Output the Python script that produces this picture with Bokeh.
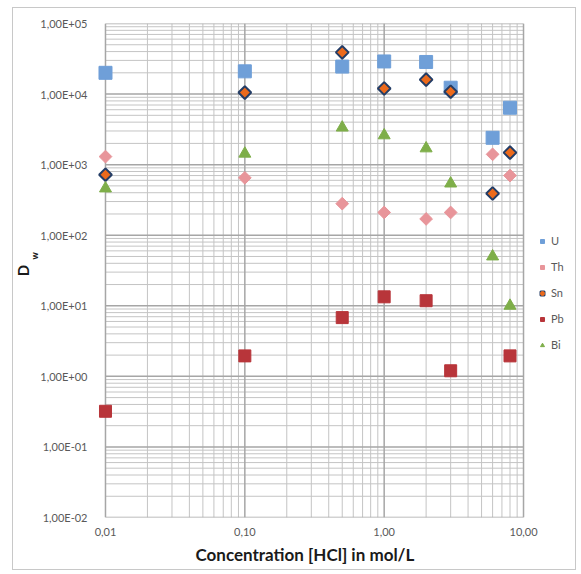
import math
from bokeh.plotting import figure
from bokeh.models import FixedTicker, Legend, LegendItem, Title
from bokeh.embed import file_html
from bokeh.resources import INLINE

# ---- data ----
hcl = [0.01, 0.1, 0.5, 1, 2, 3, 6, 8]
U = [2.0e4, 2.1e4, 2.45e4, 2.9e4, 2.85e4, 1.23e4, 2.4e3, 6.4e3]
Th = [1.3e3, 6.5e2, 2.8e2, 2.1e2, 1.7e2, 2.1e2, 1.4e3, 7.0e2]
Sn = [7.2e2, 1.05e4, 3.9e4, 1.2e4, 1.6e4, 1.08e4, 3.9e2, 1.48e3]
pb_hcl = [0.01, 0.1, 0.5, 1, 2, 3, 8]
Pb = [0.32, 1.95, 6.8, 13.4, 11.8, 1.2, 1.95]
Bi = [4.6e2, 1.43e3, 3.35e3, 2.6e3, 1.7e3, 5.4e2, 50, 10]

x_ticks = [0.01, 0.1, 1, 10]
x_tick_labels = ["0,01", "0,10", "1,00", "10,00"]
y_ticks = [1e-2, 1e-1, 1e0, 1e1, 1e2, 1e3, 1e4, 1e5]
y_tick_labels = ["1,00E-02", "1,00E-01", "1,00E+00", "1,00E+01",
                 "1,00E+02", "1,00E+03", "1,00E+04", "1,00E+05"]
x_title = "Concentration [HCl] in mol/L"
y_title = "D"
y_title_sub = "w"

FONT = "Lato"

def minors(ticks):
    out = []
    for t in ticks[:-1]:
        for k in range(2, 10):
            out.append(t * k)
    return out

x_lo, x_hi = x_ticks[0], x_ticks[-1]
y_lo, y_hi = y_ticks[0], y_ticks[-1]

# the visible chart spans 0.01..10; the frame is a little wider so that
# edge markers are not cut and the legend can sit to the right
p = figure(width=564, height=563, x_axis_type="log", y_axis_type="log",
           x_range=(0.00862, 24.4), y_range=(y_lo, y_hi),
           output_backend="svg", toolbar_location=None,
           min_border_left=83, min_border_right=0,
           min_border_top=15, min_border_bottom=54)
p.margin = (7, 0, 0, 12)
p.styles = {"border": "1px solid #c8c8c8"}
p.background_fill_color = "white"
p.border_fill_color = "white"
p.outline_line_color = None

p.xaxis.ticker = FixedTicker(ticks=x_ticks, minor_ticks=minors(x_ticks))
p.yaxis.ticker = FixedTicker(ticks=y_ticks, minor_ticks=minors(y_ticks))
p.xaxis.major_label_overrides = dict(zip(x_ticks, x_tick_labels))
p.yaxis.major_label_overrides = dict(zip(y_ticks, y_tick_labels))
p.xaxis.bounds = (x_lo, x_hi)

for ax in (p.xaxis, p.yaxis):
    ax.major_tick_line_color = None
    ax.minor_tick_line_color = None
    ax.axis_line_color = None
    ax.major_label_text_font = FONT
    ax.major_label_text_font_size = "11px"
    ax.major_label_text_color = "#595959"
p.xaxis.major_label_standoff = 4
p.yaxis.major_label_standoff = 3

p.xgrid.grid_line_color = None
p.ygrid.grid_line_color = None

# grid lines, spanning exactly the axis extents
xm = minors(x_ticks)
ym = minors(y_ticks)
p.segment(x0=xm, x1=xm, y0=[y_lo] * len(xm), y1=[y_hi] * len(xm),
          line_color="#c4c4c4", line_width=1)
p.segment(x0=[x_lo] * len(ym), x1=[x_hi] * len(ym), y0=ym, y1=ym,
          line_color="#c4c4c4", line_width=1)
p.segment(x0=x_ticks, x1=x_ticks, y0=[y_lo] * len(x_ticks), y1=[y_hi] * len(x_ticks),
          line_color="#a6a6a6", line_width=1.5)
p.segment(x0=[x_lo] * len(y_ticks), x1=[x_hi] * len(y_ticks), y0=y_ticks, y1=y_ticks,
          line_color="#a6a6a6", line_width=1.5)

# x axis title (placed under the visible chart area)
t_x = Title(text=x_title, align="left", offset=99, standoff=7,
            text_font=FONT, text_font_size="17px", text_font_style="bold",
            text_color="#1a1a1a")
p.add_layout(t_x, "below")

# y axis title D_w (subscript as a second, smaller title)
t_w = Title(text=y_title_sub, align="left", offset=258, standoff=-5,
            text_font=FONT, text_font_size="9px", text_font_style="bold",
            text_color="#1a1a1a")
t_d = Title(text=y_title, align="center", offset=3, standoff=-4,
            text_font=FONT, text_font_size="15px", text_font_style="bold",
            text_color="#1a1a1a")
p.add_layout(t_w, "left")
p.add_layout(t_d, "left")

rU = p.scatter(hcl, U, marker="square", size=13, fill_color="#6f9fd8", line_color="#6f9fd8")
rTh = p.scatter(hcl, Th, marker="square", angle=math.pi / 4, size=9,
                fill_color="#e8959a", line_color="#e8959a")
rSn1 = p.scatter(hcl, Sn, marker="square", angle=math.pi / 4, size=9,
                 fill_color="#ec6a1c", line_color="#243d66", line_width=2)
rSn2 = p.scatter(hcl, Sn, marker="circle", size=5, fill_color="#ec6a1c", line_color="#ec6a1c")
rPb = p.scatter(pb_hcl, Pb, marker="square", size=12, fill_color="#b8353a", line_color="#b8353a")
rBi = p.scatter(hcl, Bi, marker="triangle", size=12, fill_color="#7eae49", line_color="#7eae49")

legend = Legend(items=[
    LegendItem(label="U", renderers=[rU]),
    LegendItem(label="Th", renderers=[rTh]),
    LegendItem(label="Sn", renderers=[rSn1, rSn2]),
    LegendItem(label="Pb", renderers=[rPb]),
    LegendItem(label="Bi", renderers=[rBi]),
], location=(441, 166), orientation="vertical")
legend.border_line_color = None
legend.background_fill_alpha = 0
legend.padding = 0
legend.margin = 0
legend.spacing = 13
legend.glyph_height = 10
legend.glyph_width = 10
legend.label_height = 10
legend.label_standoff = 4
legend.label_text_font = FONT
legend.label_text_font_size = "11px"
legend.label_text_color = "#595959"
p.add_layout(legend, "center")

open("out.html", "w").write(file_html(p, INLINE))
